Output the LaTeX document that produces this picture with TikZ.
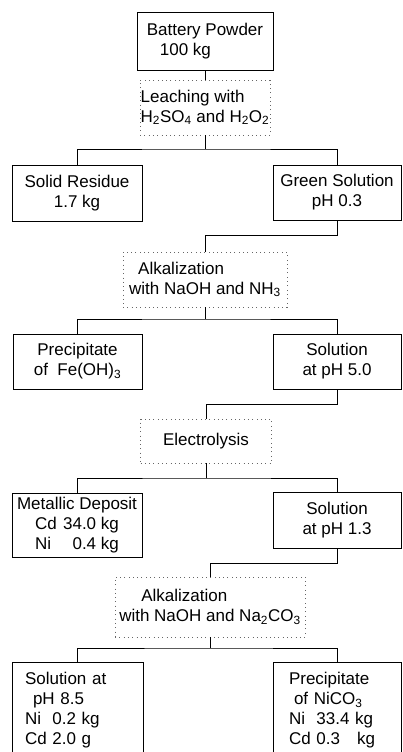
\documentclass[tikz,border=0pt]{standalone}
\usepackage{fontspec}
\setmainfont{Liberation Sans}
\begin{document}
\begin{tikzpicture}[x=1pt, y=-1pt,
  every node/.style={font=\fontsize{17}{20}\selectfont},
  box/.style={shape=rectangle, draw, line width=0.7pt, inner sep=0pt, align=center},
  stage/.style={shape=rectangle, draw=black!60, dash pattern=on 0.8pt off 3.5pt, line width=0.7pt, inner sep=0pt, align=left},
  tallbox/.style={box, anchor=north, minimum height=96pt, inner ysep=0pt, align=left},
  link/.style={line width=0.6pt}]
\path[use as bounding box, clip] (0,0) rectangle (402,752);

\node[box, minimum width=136pt, minimum height=58pt, align=left] (n1) at (205,41) {Battery Powder\\\hspace{13pt}100 kg};
\node[stage, minimum width=130pt, minimum height=55pt] (n2) at (205,107.5) {Leaching with\\H\textsubscript{2}SO\textsubscript{4} and H\textsubscript{2}O\textsubscript{2}};
\node[box, minimum width=130pt, minimum height=56pt] (n3) at (77,193) {Solid Residue\\1.7 kg};
\node[box, minimum width=128pt, minimum height=55pt] (n4) at (337,192.5) {Green Solution\\pH 0.3};
\node[stage, minimum width=164pt, minimum height=55pt] (n5) at (205,279.5) {\hspace{9pt}Alkalization\\with NaOH and NH\textsubscript{3}};
\node[box, minimum width=129pt, minimum height=55pt] (n6) at (77.5,361.5) {Precipitate\\of\ \ Fe(OH)\textsubscript{3}};
\node[box, minimum width=128pt, minimum height=55pt] (n7) at (337,361.5) {Solution\\at pH 5.0};
\node[stage, minimum width=131pt, minimum height=44pt] (n8) at (206,441) {Electrolysis};
\node[box, minimum width=130pt, minimum height=64pt] (n9) at (77,525) {Metallic Deposit\\\makebox[28pt][l]{Cd}34.0 kg\\\makebox[28pt][l]{Ni}\phantom{3}0.4 kg};
\node[box, minimum width=128pt, minimum height=56pt] (n10) at (337,520) {Solution\\at pH 1.3};
\node[stage, minimum width=190pt, minimum height=60pt] (n11) at (210,607) {\hspace{22pt}Alkalization\\with NaOH and Na\textsubscript{2}CO\textsubscript{3}};
\node[tallbox, inner xsep=13pt, text width=105pt] (n12) at (77.5,662) {Solution at\\\hspace{8pt}pH 8.5\\Ni\ \ 0.2 kg\\Cd 2.0 g};
\node[tallbox, inner xsep=16pt, text width=96pt] (n13) at (337,662) {Precipitate\\\hspace{5pt}of NiCO\textsubscript{3}\\Ni\ \ 33.4 kg\\Cd 0.3\hspace{17pt}kg};

\coordinate (b1) at (205,149);
\coordinate (b2) at (205,319);
\coordinate (b3) at (206,478);
\coordinate (b4) at (210,648);
\draw[link] (n1) -- (n2);
\draw[link] (n2) -- (b1);
\draw[link] (n3.north) |- (b1) -| (n4.north);
\draw[link] (n4.south) -- ++(0,15) -| (n5.north);
\draw[link] (n5) -- (b2);
\draw[link] (n6.north) |- (b2) -| (n7.north);
\draw[link] (n7.south) -- ++(0,15) -| (n8.north);
\draw[link] (n8) -- (b3);
\draw[link] (n9.north) |- (b3) -| (n10.north);
\draw[link] (n10.south) -- ++(0,15) -| (n11.north);
\draw[link] (n11) -- (b4);
\draw[link] (n12.north) |- (b4) -| (n13.north);
\end{tikzpicture}
\end{document}
